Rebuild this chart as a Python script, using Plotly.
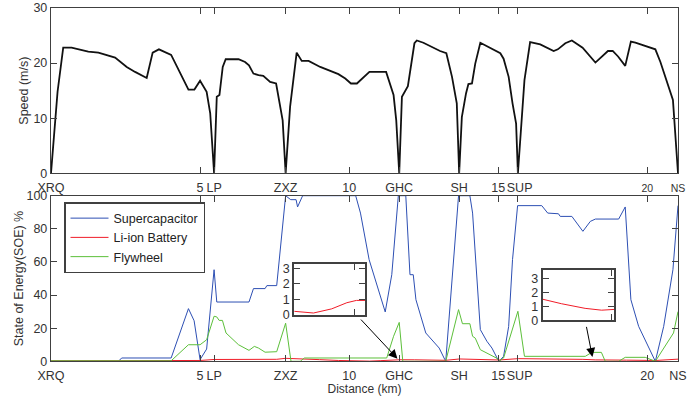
import plotly.graph_objects as go

# ---------------- data ----------------
station_km = [0, 5, 5.47, 7.87, 10, 11.68, 13.69, 15, 15.66, 20, 21.03]
station_lbl = ["XRQ", "5", "LP", "ZXZ", "10", "GHC", "SH", "15", "\u00a0SUP", "20", "NS"]

speed_km = [0, 0.22, 0.41, 0.69, 1.25, 1.59, 2.15, 2.54, 2.82, 3.21, 3.41, 3.62, 4.03, 4.61, 4.81,
            5.0, 5.22, 5.34, 5.47, 5.56, 5.65, 5.76, 5.86, 6.29, 6.51, 6.64, 6.79, 6.96, 7.12, 7.35,
            7.55, 7.68, 7.77, 7.87, 8.02, 8.24, 8.41, 8.64, 9.03, 9.64, 9.87, 10.06, 10.26, 10.68,
            11.24, 11.49, 11.58, 11.68, 11.77, 11.97, 12.19, 12.27, 12.49, 13.05, 13.26, 13.45,
            13.61, 13.69, 13.78, 13.92, 14.0, 14.12, 14.23, 14.40, 14.73, 15.07, 15.18, 15.35,
            15.48, 15.60, 15.66, 15.88, 16.07, 16.41, 16.86, 17.0, 17.25, 17.47, 17.83, 18.26,
            18.68, 18.84, 19.02, 19.26, 19.45, 19.60, 20.27, 20.44, 20.86, 21.03]
speed = [0, 14.8, 22.8, 22.8, 22.1, 21.9, 21.0, 19.3, 18.4, 17.3, 21.9, 22.5, 21.5, 15.2, 15.2,
         16.8, 14.8, 10.9, 0, 13.9, 14.2, 19.3, 20.7, 20.7, 20.2, 19.6, 18.1, 17.8, 17.7, 16.6,
         16.3, 12.7, 9.6, 0, 12.1, 21.9, 20.4, 20.4, 19.3, 18.0, 17.2, 16.3, 16.3, 18.4,
         18.4, 14.2, 9.6, 0, 13.9, 15.8, 23.6, 24.1, 23.7, 22.2, 21.8, 17.5,
         12.7, 0, 10.2, 14.5, 16.2, 16.3, 19.9, 23.7, 22.7, 21.8, 20.8, 17.5,
         12.7, 9.0, 0, 16.9, 23.8, 23.4, 22.2, 22.5, 23.6, 24.1, 22.8, 20.1,
         22.2, 22.2, 21.2, 19.5, 23.9, 23.7, 22.5, 20.2, 13.3, 0]

sc_km = [0, 2.26, 2.37, 4.03, 4.61, 4.80, 5.0, 5.22, 5.47, 5.56, 6.64, 6.79, 7.18, 7.24, 7.57,
         7.87, 8.04, 8.22, 8.27, 8.44, 10.22, 10.38, 10.67, 11.21, 11.43, 11.51, 11.65, 11.90,
         12.04, 12.15, 12.24, 12.57, 12.80, 13.02, 13.21, 13.24, 13.67, 14.05, 14.14, 14.40,
         14.62, 14.79, 14.99, 15.03, 15.18, 15.35, 15.48, 15.65, 16.46, 16.66, 17.02, 17.08,
         17.47, 17.84, 18.09, 18.26, 19.04, 19.26, 19.45, 19.71, 20.27, 20.55, 20.86, 21.03]
supercap = [0, 0, 2, 2, 31.8, 24.5, 1, 7.4, 55.3, 35.8, 35.8, 43.9, 43.9, 45.7, 45.7,
            100, 97.6, 97.6, 93.2, 100, 100, 89.5, 61.4, 29.8, 52.3, 71.4, 100, 100,
            52.3, 52.3, 37.2, 17.1, 12.1, 8.0, 1, 0, 100, 100, 89.5, 19.1,
            12.1, 8.0, 1, 0, 3, 21, 61.4, 94, 94, 89.5, 89.1, 87.5,
            87.5, 78.5, 84.5, 85.9, 85.9, 93.2, 37.2, 21.1, 0, 21.1, 55.3, 94]

li_km = [0, 2.26, 4.03, 4.61, 5.0, 5.47, 6.64, 7.57, 7.87, 8.3, 9.0, 9.64, 10.3, 10.68, 11.04,
         11.34, 11.53, 11.7, 12.2, 13.24, 13.7, 14.4, 15.03, 15.67, 16.5, 17.5, 17.84, 18.27,
         18.57, 18.8, 19.3, 20.27, 21.03]
li_ion = [0.3, 0.3, 0.4, 0.6, 0.5, 1.1, 1.0, 1.2, 1.8, 1.6, 1.0, 0.5, 0.22, 0.11, 0.38,
          0.78, 0.93, 0.93, 0.9, 0.6, 1.4, 1.0, 0.8, 1.6, 1.55, 1.5, 1.18, 0.85,
          0.72, 0.72, 0.7, 0.5, 1.3]

fw_km = [0, 4.03, 4.61, 5.0, 5.22, 5.47, 5.56, 5.64, 5.75, 5.87, 6.29, 6.64, 6.82, 6.96, 7.18,
         7.57, 7.87, 8.05, 8.36, 8.50, 11.26, 11.49, 11.68, 11.80, 13.24, 13.67, 13.80, 14.05,
         14.14, 14.23, 14.40, 14.96, 15.03, 15.18, 15.66, 15.88, 17.92, 18.14, 18.46, 18.59,
         19.04, 19.26, 19.93, 20.27, 20.88, 21.03]
flywheel = [0.3, 0.3, 10, 10, 13, 27.2, 26.8, 24.7, 24.7, 17.1, 10, 6.6, 9, 8, 5.5,
            5.8, 23, 0, 0, 2, 2, 15.1, 23.5, 0, 0, 31.2, 22.7, 22.7,
            15.1, 14, 7, 1.8, 0, 2, 30.2, 3, 3, 5.4, 5.4, 0,
            0, 2.4, 2.4, 0, 17.1, 30]

inset1_range = [10.3, 11.7]
inset2_range = [17.5, 18.8]
# arrows: [head_x, head_y, tail_x, tail_y]
arrow1 = [11.62, 1.6, 10.35, 26.1]
arrow2 = [18.16, 2.6, 17.95, 21.7]

# ---------------- styling ----------------
FONT = "Liberation Sans, Arial, Helvetica, sans-serif"
AX = "#404040"
TXT = "#333333"
BLUE = "#2d4fb3"
RED = "#f01c28"
GREEN = "#5cbf3a"

top_ticktext = [t if t not in ("20", "NS") else '<span style="font-size:10.5px">%s</span>' % t
                for t in station_lbl]

fig = go.Figure()
fig.add_trace(go.Scatter(x=speed_km, y=speed, mode="lines", xaxis="x", yaxis="y",
                         line=dict(color="#111111", width=1.8), showlegend=False))
fig.add_trace(go.Scatter(x=sc_km, y=supercap, mode="lines", xaxis="x2", yaxis="y2",
                         name="Supercapacitor", line=dict(color=BLUE, width=1)))
fig.add_trace(go.Scatter(x=li_km, y=li_ion, mode="lines", xaxis="x2", yaxis="y2",
                         name="Li-ion Battery", line=dict(color=RED, width=1)))
fig.add_trace(go.Scatter(x=fw_km, y=flywheel, mode="lines", xaxis="x2", yaxis="y2",
                         name="Flywheel", line=dict(color=GREEN, width=1)))
fig.add_trace(go.Scatter(x=li_km, y=li_ion, mode="lines", xaxis="x3", yaxis="y3",
                         line=dict(color=RED, width=1), showlegend=False))
fig.add_trace(go.Scatter(x=li_km, y=li_ion, mode="lines", xaxis="x4", yaxis="y4",
                         line=dict(color=RED, width=1), showlegend=False))

common = dict(showline=True, linecolor=AX, mirror="ticks", ticks="inside",
              ticklen=6, tickcolor=AX, tickwidth=1, showgrid=False, zeroline=False,
              tickfont=dict(family=FONT, size=12.5, color=TXT), automargin=False)

xdom = [51 / 699, 678 / 699]
fig.update_layout(
    width=699, height=397,
    margin=dict(l=0, r=0, t=0, b=0),
    paper_bgcolor="white", plot_bgcolor="white",
    font=dict(family=FONT, size=12.5, color=TXT),
    xaxis=dict(domain=xdom, anchor="y", range=[0, station_km[-1]], tickmode="array",
               tickvals=station_km, ticktext=top_ticktext, tickangle=0, linewidth=1.4,
               ticklabelstandoff=2, **common),
    yaxis=dict(domain=[1 - 173.3 / 397, 1 - 8 / 397], anchor="x", range=[0, 30],
               tickvals=[0, 10, 20, 30], linewidth=1.4,
               title=dict(text="Speed (m/s)", standoff=2, font=dict(family=FONT, size=12.5, color=TXT)),
               **common),
    xaxis2=dict(domain=xdom, anchor="y2", range=[0, station_km[-1]], tickmode="array",
                tickvals=station_km, ticktext=station_lbl, tickangle=0, linewidth=1.4,
                ticklabelstandoff=2,
                title=dict(text="Distance (km)", standoff=0, font=dict(family=FONT, size=12, color=TXT)),
                **common),
    yaxis2=dict(domain=[1 - 361.3 / 397, 1 - 195.7 / 397], anchor="x2", range=[0, 100],
                tickvals=[0, 20, 40, 60, 80, 100], linewidth=1.4,
                title=dict(text="State of Energy(SOE) %", standoff=0,
                           font=dict(family=FONT, size=12.5, color=TXT)),
                **common),
    xaxis3=dict(domain=[294.3 / 699, 365 / 699], anchor="y3", range=inset1_range,
                tickvals=[11.5], showticklabels=False, linewidth=2, **common),
    yaxis3=dict(domain=[1 - 314.7 / 397, 1 - 264 / 397], anchor="x3", range=[0, 3.3],
                tickvals=[0, 1, 2, 3], linewidth=2, **common),
    xaxis4=dict(domain=[542.7 / 699, 614.3 / 699], anchor="y4", range=inset2_range,
                tickvals=[18.75], showticklabels=False, linewidth=2, **common),
    yaxis4=dict(domain=[1 - 320.3 / 397, 1 - 269.7 / 397], anchor="x4", range=[0, 3.6],
                tickvals=[0, 1, 2, 3], linewidth=2, **common),
    legend=dict(x=64 / 699, y=1 - 202 / 397, xanchor="left", yanchor="top",
                bgcolor="white", bordercolor=AX, borderwidth=1.5,
                font=dict(family=FONT, size=12.5, color="#222222"),
                tracegroupgap=0, itemwidth=38),
    showlegend=True,
)

for a in (arrow1, arrow2):
    fig.add_annotation(x=a[0], y=a[1], ax=a[2], ay=a[3], xref="x2", yref="y2",
                       axref="x2", ayref="y2", showarrow=True, arrowhead=2, arrowsize=1.8,
                       arrowwidth=1, arrowcolor="black", text="")

fig.write_html("out.html", config={"displayModeBar": False},
               post_script="document.body.style.margin='0';")
